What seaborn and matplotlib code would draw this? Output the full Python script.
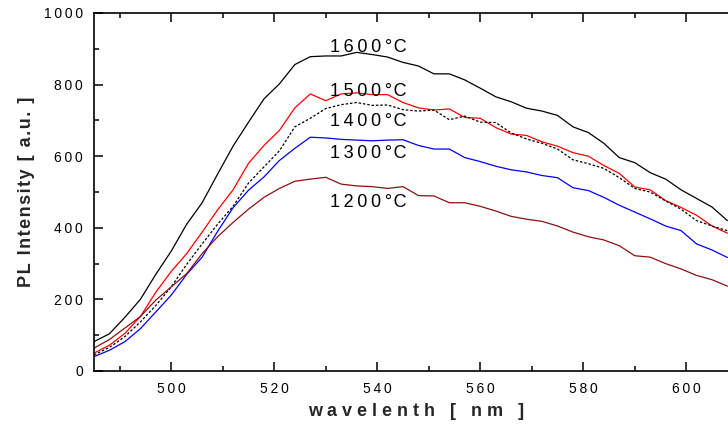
"""
PL spectra vs annealing temperature
"""
import numpy as np
import pandas as pd
import matplotlib
matplotlib.use('Agg')
import matplotlib.pyplot as plt
import seaborn as sns
from matplotlib.ticker import MultipleLocator, FuncFormatter

# wavelength grid (nm)
wavelength = [485, 488, 491, 494, 497, 500, 503, 506, 509, 512, 515, 518, 521, 524,
              527, 530, 533, 536, 539, 542, 545, 548, 551, 554, 557, 560, 563, 566,
              569, 572, 575, 578, 581, 584, 587, 590, 593, 596, 599, 602, 605, 608]

pl_1600 = [82, 104, 150, 200, 270, 335, 410, 470, 550, 628, 695, 760, 802, 856,
           878, 880, 880, 890, 884, 877, 862, 852, 830, 830, 813, 790, 766, 752,
           734, 726, 714, 682, 666, 636, 596, 582, 554, 536, 506, 482, 458, 420]
pl_1500 = [50, 72, 105, 152, 220, 278, 328, 388, 450, 506, 580, 630, 672, 735,
           774, 755, 774, 777, 772, 772, 750, 735, 729, 732, 708, 706, 680, 662,
           658, 640, 628, 610, 600, 574, 552, 514, 506, 476, 457, 435, 405, 385]
pl_1400 = [45, 66, 96, 137, 183, 235, 298, 355, 410, 460, 525, 570, 615, 682,
           706, 733, 744, 750, 742, 743, 730, 726, 729, 702, 712, 695, 694, 665,
           648, 636, 620, 590, 579, 566, 540, 510, 500, 475, 452, 420, 405, 392]
pl_1300 = [40, 58, 82, 118, 165, 212, 270, 318, 390, 456, 505, 542, 588, 622,
           653, 651, 647, 645, 643, 645, 646, 630, 620, 620, 596, 585, 572, 562,
           556, 546, 540, 512, 504, 485, 463, 444, 425, 405, 392, 355, 338, 317]
pl_1200 = [64, 88, 120, 152, 198, 235, 272, 328, 375, 415, 452, 485, 510, 530,
           536, 541, 522, 517, 515, 510, 515, 490, 489, 470, 470, 460, 447, 432,
           424, 418, 405, 388, 375, 366, 350, 322, 318, 300, 285, 267, 255, 237]

series = [
    ("1600", pl_1600, "#000000", "-"),
    ("1500", pl_1500, "#ff0000", "-"),
    ("1400", pl_1400, "#000000", (0, (2, 1.5))),
    ("1300", pl_1300, "#0000ff", "-"),
    ("1200", pl_1200, "#8b1010", "-"),
]
label_pos = {"1600": 903, "1500": 782, "1400": 697, "1300": 607, "1200": 472}

sns.set_style("ticks")
plt.rcParams['font.family'] = ['Liberation Sans', 'DejaVu Sans']

TS = "\u2009"  # thin space, for the wide letter spacing
HS = "\u200a"  # hair space


def spaced(s, sep=TS):
    return sep.join(s)


fig = plt.figure(figsize=(7.28, 4.32), dpi=100)
ax = fig.add_axes([94 / 728, 61 / 432, 643.75 / 728, 358 / 432])

for name, vals, color, ls in series:
    df = pd.DataFrame({"wavelength": wavelength, "pl": vals})
    sns.lineplot(data=df, x="wavelength", y="pl", color=color, linestyle=ls,
                 linewidth=0.9, ax=ax)
    ax.text(530.8, label_pos[name], spaced(name) + TS + "°" + HS + "C", fontsize=13,
            va="center", ha="left", color="black")

ax.set_xlim(485, 610)
ax.set_ylim(0, 1000)
ax.xaxis.set_major_locator(MultipleLocator(20))
ax.xaxis.set_minor_locator(MultipleLocator(10))
ax.yaxis.set_major_locator(MultipleLocator(200))
ax.yaxis.set_minor_locator(MultipleLocator(100))
fmt = FuncFormatter(lambda v, p: spaced(f"{int(round(v))}"))
ax.xaxis.set_major_formatter(fmt)
ax.yaxis.set_major_formatter(fmt)

ax.tick_params(which="both", direction="in", top=True, right=True,
               labelsize=10, width=1.1, colors="black")
ax.tick_params(which="major", length=6.5, pad=8)
ax.tick_params(which="minor", length=3.5)
for side in ["left", "bottom", "top", "right"]:
    ax.spines[side].set_linewidth(1.2)
    ax.spines[side].set_color("black")

ax.set_xlabel("w a v e l e n t h   [   n m   ]", fontsize=13, fontweight="bold",
              labelpad=5)
ax.set_ylabel(spaced("PL Intensity [ a.u. ]", HS), fontsize=13, fontweight="bold",
              labelpad=6)

plt.savefig("out.png", dpi=100)
plt.close()
